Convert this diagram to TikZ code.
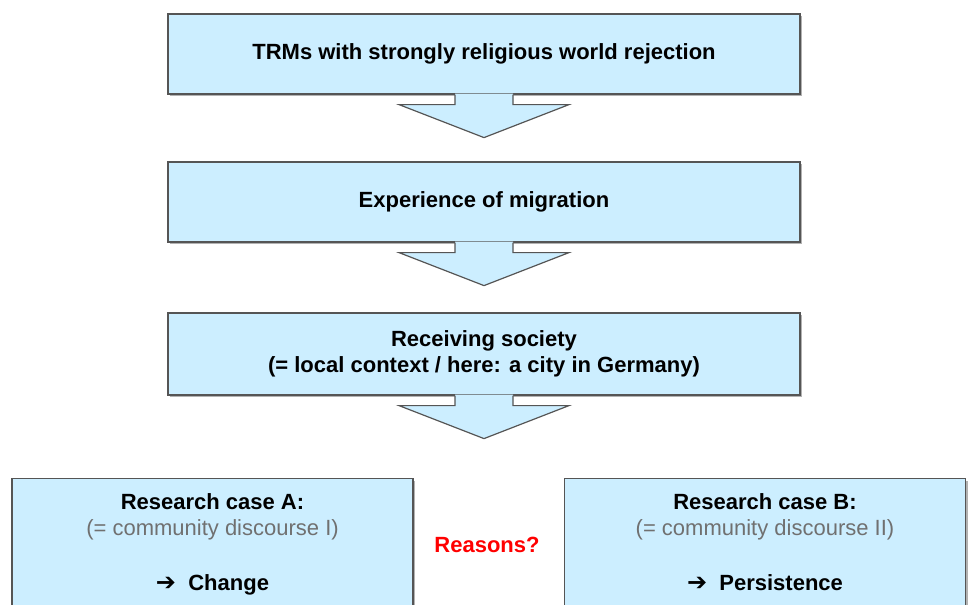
\documentclass[tikz,border=0pt]{standalone}
\usepackage{fontspec}
\setmainfont{Liberation Sans}
\newfontfamily\arrowfont{DejaVu Sans}
\usepackage{xcolor}
\usepackage{tikz}
\usetikzlibrary{calc,shadows}

\definecolor{boxblue}{HTML}{CCEEFF}
\definecolor{boxline}{HTML}{555555}
\definecolor{notegray}{HTML}{707070}

% block arrow from the bottom of one box towards the next
\newcommand{\blockarrow}[2]{%
	\fill[boxblue] ($(#1.south)+(-29,-1)$) -- ($(#1.south)!10pt!(#2)+(-29,0)$) -- ($(#1.south)!10pt!(#2)+(-85,0)$) -- ($(#1.south)!43pt!(#2)$) -- ($(#1.south)!10pt!(#2)+(85,0)$) -- ($(#1.south)!10pt!(#2)+(29,0)$) -- ($(#1.south)+(29,-1)$) -- cycle;
	\draw[boxline,line width=1.2pt] ($(#1.south)+(-29,0)$) -- ($(#1.south)!10pt!(#2)+(-29,0)$) -- ($(#1.south)!10pt!(#2)+(-85,0)$) -- ($(#1.south)!43pt!(#2)$) -- ($(#1.south)!10pt!(#2)+(85,0)$) -- ($(#1.south)!10pt!(#2)+(29,0)$) -- ($(#1.south)+(29,0)$);
}

\begin{document}
\begin{tikzpicture}[x=1pt,y=-1pt,
		flowbox/.style={draw=boxline,line width=1.2pt,fill=boxblue,minimum width=632pt,minimum height=80pt,align=center,font=\bfseries\fontsize{22}{26}\selectfont,drop shadow={shadow xshift=2pt,shadow yshift=-2pt,fill=black!30,opacity=1}},
		casebox/.style={flowbox,minimum width=401pt,minimum height=0pt,anchor=north,inner ysep=15pt}]
		\useasboundingbox (0,0) rectangle (970,605);
		\clip (0,0) rectangle (970,605);
		\node[flowbox] (trm) at (484,54) {TRMs with strongly religious world rejection};
		\node[flowbox] (migration) at (484,202) {Experience of migration};
		\node[flowbox,minimum height=82pt] (society) at (484,354) {Receiving society\\(= local context / here: a city in Germany)};
		\coordinate (split) at (484,478);
		\node[casebox] (caseA) at (212.5,478) {Research case A:\\{\mdseries\color{notegray}(= community discourse I)}\\[29pt]{\arrowfont\bfseries\fontsize{24}{26}\selectfont ➔}\ \ Change};
		\node[casebox] (caseB) at (765,478) {Research case B:\\{\mdseries\color{notegray}(= community discourse II)}\\[29pt]{\arrowfont\bfseries\fontsize{24}{26}\selectfont ➔}\ \ Persistence};
		\node[text=red,font=\bfseries\fontsize{22}{26}\selectfont] (reasons) at (487,545) {Reasons?};
		\blockarrow{trm}{migration.north}
		\blockarrow{migration}{society.north}
		\blockarrow{society}{split}
	\end{tikzpicture}
\end{document}
